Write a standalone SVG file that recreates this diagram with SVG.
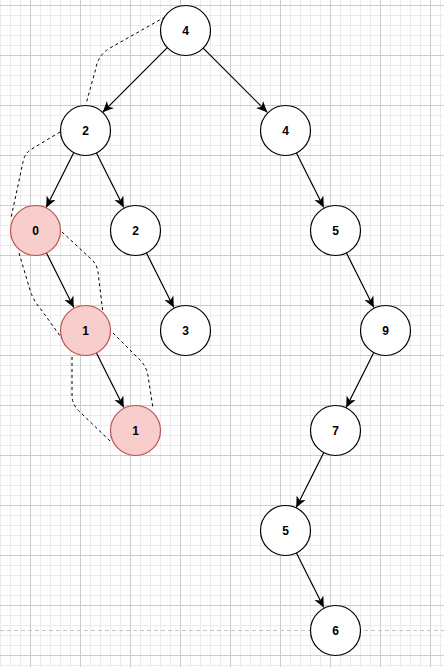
<svg xmlns="http://www.w3.org/2000/svg" width="444" height="667" viewBox="0 0 444 667">
<defs>
<pattern id="minor" patternUnits="userSpaceOnUse" x="0" y="5" width="10" height="10">
<path d="M0.5,0 V10 M0,0.5 H10" stroke="#ebebeb" stroke-width="1" fill="none"/>
</pattern>
<pattern id="major" patternUnits="userSpaceOnUse" x="30" y="5" width="50" height="50">
<path d="M0.5,0 V50 M0,0.5 H50" stroke="#cccccc" stroke-width="1" fill="none"/>
</pattern>
<marker id="arr" markerUnits="userSpaceOnUse" markerWidth="11" markerHeight="10" viewBox="0 0 11 10" refX="11" refY="5" orient="auto">
<path d="M0,0 L11,5 L0,10 L3,5 Z" fill="#000"/>
</marker>
<style>
.n{fill:#fff;stroke:#000;stroke-width:1.2}
.r{fill:#f8cecc;stroke:#b85450;stroke-width:1.2}
.t{font-family:"Liberation Sans",Arial,sans-serif;font-size:12px;font-weight:bold;text-anchor:middle;fill:#000}
.e{stroke:#000;stroke-width:1.2;fill:none;marker-end:url(#arr)}
.d{stroke:#000;stroke-width:1;fill:none;stroke-dasharray:3 3}
</style>
</defs>
<rect width="444" height="667" fill="#fff"/>
<rect width="444" height="667" fill="url(#minor)"/>
<rect width="444" height="667" fill="url(#major)"/>
<line x1="0" y1="630.5" x2="444" y2="630.5" stroke="#c4c4c4" stroke-width="1" stroke-dasharray="4 3"/>
<g id="connectors">
<line class="e" x1="167.3" y1="47.7" x2="102.7" y2="112.3"/>
<line class="e" x1="202.7" y1="47.7" x2="267.3" y2="112.3"/>
<line class="e" x1="73.8" y1="152.4" x2="46.2" y2="207.6"/>
<line class="e" x1="96.2" y1="152.4" x2="123.8" y2="207.6"/>
<line class="e" x1="46.2" y1="252.4" x2="73.8" y2="307.6"/>
<line class="e" x1="146.2" y1="252.4" x2="173.8" y2="307.6"/>
<line class="e" x1="296.2" y1="152.4" x2="323.8" y2="207.6"/>
<line class="e" x1="346.2" y1="252.4" x2="373.8" y2="307.6"/>
<line class="e" x1="96.2" y1="352.4" x2="123.8" y2="407.6"/>
<line class="e" x1="373.8" y1="352.4" x2="346.2" y2="407.6"/>
<line class="e" x1="323.8" y1="452.4" x2="296.2" y2="507.6"/>
<line class="e" x1="296.2" y1="552.4" x2="323.8" y2="607.6"/>
<path class="d" d="M165,17 L110,48 Q98,55 96,68 L86,104"/>
<path class="d" d="M60,132 L30,150 Q24,155 23,162 L11,218"/>
<path class="d" d="M62,232 L90,258 Q97,264 98,272 L103,313"/>
<path class="d" d="M19,253 L30,290 Q33,300 40,308 L63,340"/>
<path class="d" d="M113,333 L141,361 Q147,368 148,376 L153,408"/>
<path class="d" d="M72,357 L72,397 Q73,406 80,412 L110,441"/>
</g>
<g id="n4a"><circle class="n" cx="185.5" cy="30.5" r="25"/><text class="t" x="185.5" y="35">4</text></g>
<g id="n2a"><circle class="n" cx="85.5" cy="130.5" r="25"/><text class="t" x="85.5" y="135">2</text></g>
<g id="n4b"><circle class="n" cx="285.5" cy="130.5" r="25"/><text class="t" x="285.5" y="135">4</text></g>
<g id="n0"><circle class="r" cx="35.5" cy="230.5" r="25"/><text class="t" x="35.5" y="235">0</text></g>
<g id="n2b"><circle class="n" cx="135.5" cy="230.5" r="25"/><text class="t" x="135.5" y="235">2</text></g>
<g id="n5a"><circle class="n" cx="335.5" cy="230.5" r="25"/><text class="t" x="335.5" y="235">5</text></g>
<g id="n1a"><circle class="r" cx="85.5" cy="330.5" r="25"/><text class="t" x="85.5" y="335">1</text></g>
<g id="n3"><circle class="n" cx="185.5" cy="330.5" r="25"/><text class="t" x="185.5" y="335">3</text></g>
<g id="n9"><circle class="n" cx="385.5" cy="330.5" r="25"/><text class="t" x="385.5" y="335">9</text></g>
<g id="n1b"><circle class="r" cx="135.5" cy="430.5" r="25"/><text class="t" x="135.5" y="435">1</text></g>
<g id="n7"><circle class="n" cx="335.5" cy="430.5" r="25"/><text class="t" x="335.5" y="435">7</text></g>
<g id="n5b"><circle class="n" cx="285.5" cy="530.5" r="25"/><text class="t" x="285.5" y="535">5</text></g>
<g id="n6"><circle class="n" cx="335.5" cy="630.5" r="25"/><text class="t" x="335.5" y="635">6</text></g>
</svg>
